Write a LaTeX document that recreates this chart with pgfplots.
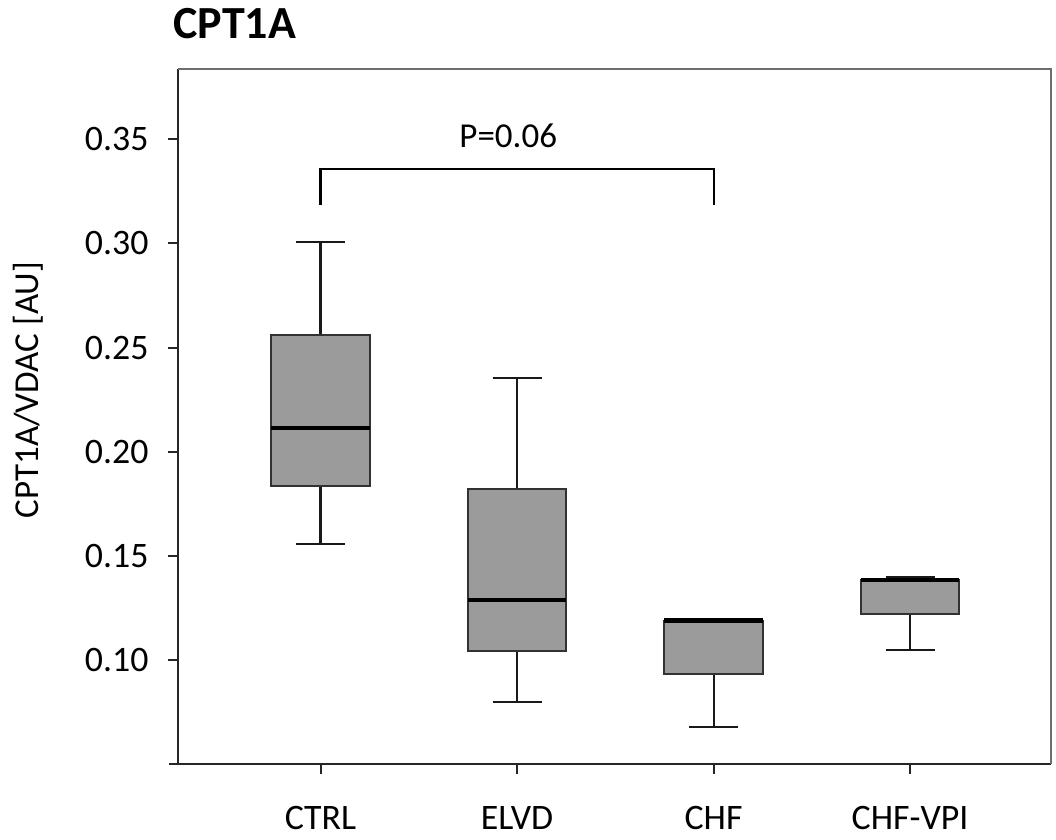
\documentclass[border=0pt]{standalone}
\usepackage{pgfplots}
\pgfplotsset{compat=1.18}
\usepgfplotslibrary{statistics}
\usepackage{fontspec}
\setmainfont{Carlito}
\definecolor{boxfill}{RGB}{155,155,155}
\definecolor{boxline}{RGB}{50,50,50}
\definecolor{framegray}{RGB}{110,110,110}
\begin{document}
\begin{tikzpicture}
\begin{axis}[
  scale only axis,
  width=523.8pt, height=417pt,
  xmin=0.2745, xmax=4.717,
  ymin=0.05, ymax=0.3838,
  axis x line*=bottom, axis y line*=left,
  axis line style={line width=1.2pt, draw=black!85},
  xtick={1,2,3,4},
  xticklabels={CTRL,ELVD,CHF,CHF-VPI},
  ytick={0.10,0.15,0.20,0.25,0.30,0.35},
  tick align=outside,
  major tick length=5.8pt,
  tick style={line width=1.2pt, draw=black!85},
  /pgf/number format/assume math mode=true,
  yticklabel={\pgfmathprintnumber[fixed,fixed zerofill,precision=2]{\tick}},
  tick label style={font=\fontsize{21.5pt}{25pt}\selectfont},
  xticklabel style={yshift=-16pt},
  yticklabel style={xshift=-8.4pt},
  ylabel={CPT1A/VDAC [AU]},
  ylabel style={font=\fontsize{21pt}{25pt}\selectfont, at={(axis description cs:-0.172,0.538)}, anchor=center},
  boxplot/draw direction=y,
  boxplot/box extend=0.5,
  boxplot/whisker extend=0.25,
  boxplot/every median/.style={line width=2.6pt, draw=black},
  boxplot/every whisker/.style={line width=1.3pt, draw=black!90},
  clip=false,
]
\addplot[boxplot prepared={draw position=1, lower whisker=0.1557, lower quartile=0.1835, median=0.2113, upper quartile=0.2560, upper whisker=0.3007}, fill=boxfill, draw=boxline, line width=1.2pt] coordinates {};
\addplot[boxplot prepared={draw position=2, lower whisker=0.0798, lower quartile=0.1043, median=0.1288, upper quartile=0.1821, upper whisker=0.2353}, fill=boxfill, draw=boxline, line width=1.2pt] coordinates {};
\addplot[boxplot prepared={draw position=3, lower whisker=0.0678, lower quartile=0.0933, median=0.1189, upper quartile=0.1189, upper whisker=0.1189}, fill=boxfill, draw=boxline, line width=1.2pt] coordinates {};
\addplot[boxplot prepared={draw position=4, lower whisker=0.1048, lower quartile=0.1221, median=0.1384, upper quartile=0.1384, upper whisker=0.1398}, fill=boxfill, draw=boxline, line width=1.2pt] coordinates {};
\draw[line width=1.3pt, black] (axis cs:1,0.3185) -- (axis cs:1,0.3357) -- (axis cs:3,0.3357) -- (axis cs:3,0.3185);
\node[anchor=base, font=\fontsize{21pt}{25pt}\selectfont, inner sep=0pt] at (axis cs:1.955,0.3463) {P=0.06};
\draw[framegray, line width=1.2pt] (rel axis cs:0,1) -- (rel axis cs:1,1) -- (rel axis cs:1,0);
\coordinate (bl) at (rel axis cs:0,0);
\coordinate (tr) at (rel axis cs:1,1);
\coordinate (tl) at (rel axis cs:0,1);
\end{axis}
\draw[line width=1.2pt, draw=black!85] (bl) -- ([xshift=-5.4pt]bl);
\node[anchor=base west, inner sep=0pt, font=\fontsize{27.6pt}{32pt}\selectfont\bfseries] at ([shift={(-3pt,18pt)}]tl) {CPT1A};
\pgfresetboundingbox
\path[use as bounding box] ([shift={(-106.8pt,-45pt)}]bl) rectangle ([shift={(3pt,41.4pt)}]tr);
\end{tikzpicture}
\end{document}
